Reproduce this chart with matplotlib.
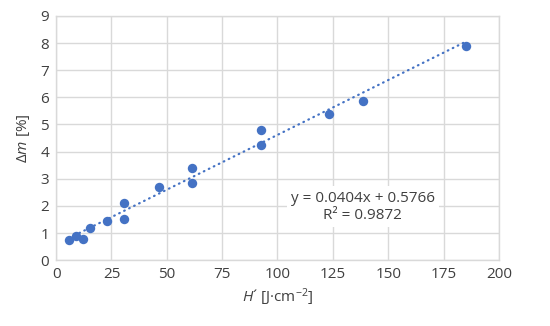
import numpy as np
import matplotlib
matplotlib.use('Agg')
import matplotlib.pyplot as plt

# Daten
H = [6.0, 9.2, 12.3, 15.3, 23.2, 30.8, 30.8, 46.3, 61.5, 61.5, 92.5, 92.5, 123.4, 138.7, 185.1]
dm = [0.74, 0.90, 0.79, 1.18, 1.44, 2.09, 1.51, 2.68, 3.39, 2.83, 4.79, 4.23, 5.39, 5.88, 7.90]
slope = 0.0404
intercept = 0.5766
r2 = 0.9872

plt.rcParams['font.family'] = ['Open Sans', 'DejaVu Sans']
plt.rcParams['mathtext.fontset'] = 'custom'
plt.rcParams['mathtext.rm'] = 'Open Sans'
plt.rcParams['mathtext.it'] = 'Open Sans:italic'

fig = plt.figure(figsize=(5.5, 3.26), dpi=100)
ax = fig.add_axes([0.102, 0.202, 0.805, 0.749])

blue = '#4472C4'
grid_col = '#D9D9D9'
txt_col = '#404040'

# Trendlinie
xt = np.array([min(H), max(H)])
ax.plot(xt, slope * xt + intercept, color=blue, lw=1.6, dashes=(0.3, 2.2),
        dash_capstyle='round', zorder=2)
ax.scatter(H, dm, s=46, color=blue, zorder=3, linewidths=0)

ax.set_xlim(0, 200)
ax.set_ylim(0, 9)
ax.set_xticks(np.arange(0, 201, 25))
ax.set_yticks(np.arange(0, 10, 1))
ax.grid(True, color=grid_col, lw=1)
ax.set_axisbelow(True)
for s in ax.spines.values():
    s.set_color(grid_col)
    s.set_linewidth(1)
ax.tick_params(length=0, labelsize=11, colors=txt_col, pad=5)

ax.set_xlabel(r'$\mathit{H}$´ [J·cm$^{−2}$]', fontsize=11, color=txt_col, labelpad=3)
ax.set_ylabel(r'$\mathit{\Delta m}$ [%]', fontsize=11, color=txt_col, labelpad=6)

ax.text(138.5, 1.97, 'y = {:.4f}x + {:.4f}\nR² = {:.4f}'.format(slope, intercept, r2),
        ha='center', va='center', fontsize=11, color=txt_col, linespacing=1.2,
        bbox=dict(facecolor='white', edgecolor='none', pad=3), zorder=4)

fig.savefig('out.png', dpi=100)
